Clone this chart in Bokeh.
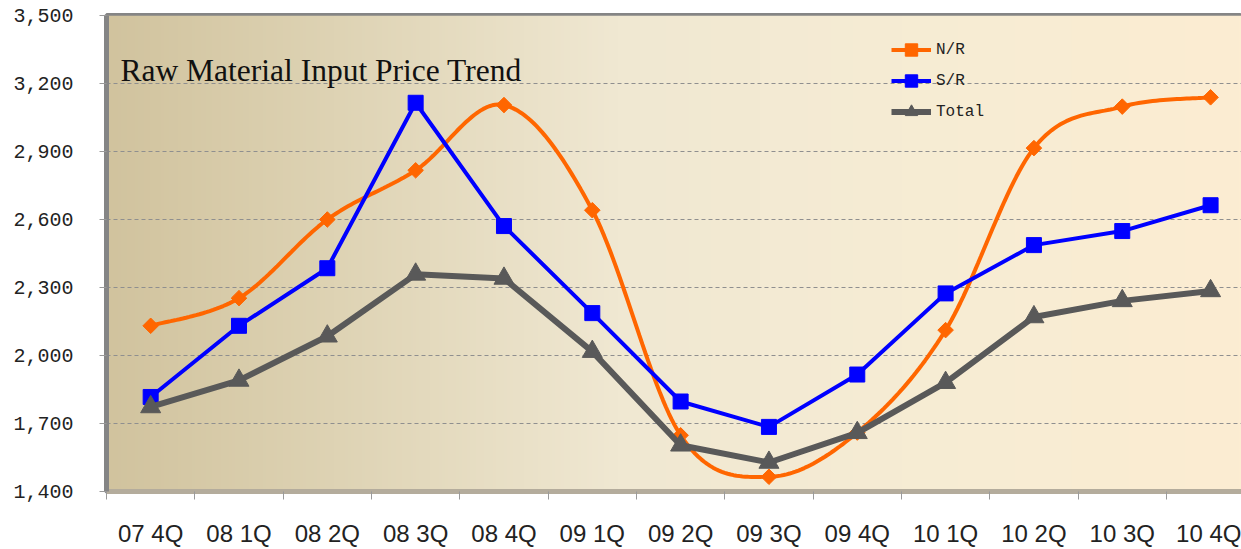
import numpy as np
from bokeh.plotting import figure
from bokeh.models import (FixedTicker, Legend, LegendItem, Label,
                          NumeralTickFormatter, Range1d)
from bokeh.embed import file_html
from bokeh.resources import INLINE

# ---------------- data ----------------
quarters = ["07 4Q", "08 1Q", "08 2Q", "08 3Q", "08 4Q", "09 1Q", "09 2Q",
            "09 3Q", "09 4Q", "10 1Q", "10 2Q", "10 3Q", "10 4Q"]
nr = [2131, 2253, 2600, 2817, 3105, 2641, 1648, 1465, 1660, 2112, 2915, 3098, 3139]
sr = [1817, 2131, 2385, 3115, 2571, 2187, 1797, 1685, 1916, 2274, 2487, 2549, 2663]
total = [1773, 1890, 2085, 2358, 2340, 2017, 1604, 1528, 1659, 1880, 2170, 2241, 2285]
y_ticks = [1400, 1700, 2000, 2300, 2600, 2900, 3200, 3500]
series_names = ["N/R", "S/R", "Total"]
title_text = "Raw Material Input Price Trend"

# ---------------- helpers ----------------
def smooth(xs, ys, n=30):
    """Excel-like smoothed line (Catmull-Rom as cubic Bezier)."""
    P = np.column_stack([xs, ys]).astype(float)
    E = np.vstack([P[0], P, P[-1]])
    out = []
    for i in range(len(P) - 1):
        p0, p1, p2, p3 = E[i], E[i + 1], E[i + 2], E[i + 3]
        c1 = p1 + (p2 - p0) / 6.0
        c2 = p2 - (p3 - p1) / 6.0
        t = np.linspace(0, 1, n, endpoint=(i == len(P) - 2))[:, None]
        pts = ((1 - t) ** 3) * p1 + 3 * (1 - t) ** 2 * t * c1 + 3 * (1 - t) * t ** 2 * c2 + t ** 3 * p2
        out.append(pts)
    S = np.vstack(out)
    return S[:, 0], S[:, 1]

x = np.arange(len(quarters))
x_lo, x_hi = -0.5, 12.35
y_lo, y_hi = y_ticks[0], y_ticks[-1]

p = figure(width=1241, height=549,
           x_range=Range1d(x_lo, x_hi), y_range=Range1d(y_lo, y_hi),
           output_backend="svg", toolbar_location=None,
           min_border_left=106, min_border_right=0,
           min_border_top=15, min_border_bottom=56)
p.border_fill_color = "white"
p.background_fill_color = "#EFE6CF"
p.outline_line_color = "#858585"
p.outline_line_width = 5

# gradient background of the plot area
stops = np.array([0.0, 0.2, 0.45, 0.7, 1.0])
cols = np.array([[209, 195, 158],
                 [222, 211, 180],
                 [240, 232, 210],
                 [246, 236, 212],
                 [252, 237, 210]], dtype=float)
ncol = 400
fr = np.linspace(0, 1, ncol)
img = np.empty((1, ncol), dtype=np.uint32)
view = img.view(dtype=np.uint8).reshape((1, ncol, 4))
for c in range(3):
    view[0, :, c] = np.interp(fr, stops, cols[:, c]).astype(np.uint8)
view[0, :, 3] = 255
p.image_rgba(image=[img], x=x_lo, y=y_lo, dw=x_hi - x_lo, dh=y_hi - y_lo, level="image")

# grid
p.xgrid.visible = False
p.ygrid.ticker = FixedTicker(ticks=y_ticks[1:-1])
p.ygrid.grid_line_color = "#8f8f8f"
p.ygrid.grid_line_dash = "4 3"
p.ygrid.grid_line_width = 1.2

# y axis
p.yaxis.ticker = FixedTicker(ticks=y_ticks)
p.yaxis.formatter = NumeralTickFormatter(format="0,0")
p.yaxis.major_label_text_font = "Liberation Mono"
p.yaxis.major_label_text_font_size = "20px"
p.yaxis.major_label_text_color = "#222222"
p.yaxis.major_tick_out = 7
p.yaxis.major_tick_in = 0
p.yaxis.major_tick_line_color = "#9a9a9a"
p.yaxis.minor_tick_line_color = None
p.yaxis.axis_line_color = "#858585"
p.yaxis.axis_line_width = 5
p.yaxis.major_label_standoff = 26

# x axis
p.xaxis.ticker = FixedTicker(ticks=list(x), minor_ticks=list(x - 0.5) + [x[-1] + 0.5])
p.xaxis.major_label_overrides = {int(i): q for i, q in zip(x, quarters)}
p.xaxis.major_tick_line_color = None
p.xaxis.major_tick_out = 0
p.xaxis.minor_tick_out = 8
p.xaxis.minor_tick_in = 0
p.xaxis.minor_tick_line_color = "#9a9a9a"
p.xaxis.axis_line_color = "#B4AC9C"
p.xaxis.axis_line_width = 5
p.xaxis.major_label_text_font = "Liberation Sans"
p.xaxis.major_label_text_font_size = "24px"
p.xaxis.major_label_text_color = "#222222"
p.xaxis.major_label_standoff = 20

# series
orange, blue, gray = "#FF6600", "#0000FF", "#595959"
sx, sy = smooth(x, nr)
nr_line = p.line(sx, sy, line_color=orange, line_width=4)
nr_pts = p.scatter(x, nr, marker="square", angle=np.pi / 4, size=11,
                   fill_color=orange, line_color=orange)
sr_line = p.line(x, sr, line_color=blue, line_width=4)
sr_pts = p.scatter(x, sr, marker="square", size=15, fill_color=blue, line_color=blue)
tot_line = p.line(x, total, line_color=gray, line_width=6)
tot_pts = p.scatter(x, total, marker="triangle", size=20, fill_color=gray, line_color=gray)

legend = Legend(items=[
    LegendItem(label=series_names[0], renderers=[nr_line, nr_pts]),
    LegendItem(label=series_names[1], renderers=[sr_line, sr_pts]),
    LegendItem(label=series_names[2], renderers=[tot_line, tot_pts]),
], location=(785, 364))
legend.glyph_width = 40
legend.glyph_height = 31
legend.label_height = 31
legend.spacing = 0
legend.padding = 0
legend.margin = 0
legend.label_standoff = 5
legend.background_fill_alpha = 0
legend.border_line_color = None
legend.label_text_font = "Liberation Mono"
legend.label_text_font_size = "16px"
legend.label_text_color = "#222222"
p.add_layout(legend)

title = Label(x=14, y=421, x_units="screen", y_units="screen", text=title_text,
              text_font="Liberation Serif", text_font_size="31.5px",
              text_color="#111111", text_baseline="alphabetic")
p.add_layout(title)

open("out.html", "w").write(file_html(p, INLINE))
